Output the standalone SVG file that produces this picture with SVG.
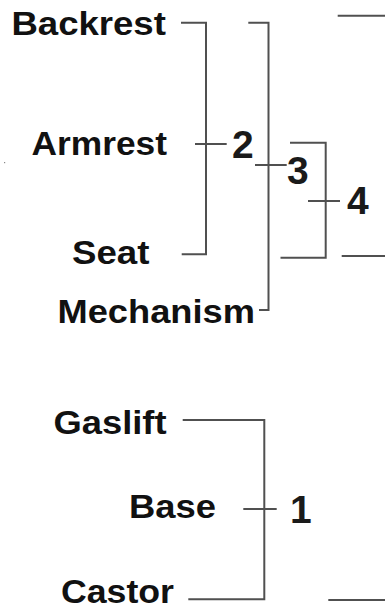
<svg xmlns="http://www.w3.org/2000/svg" width="385" height="609" viewBox="0 0 385 609">
<style>
.lbl{font-family:"Liberation Sans",Arial,sans-serif;font-weight:bold;font-size:33px;fill:#111}
.num{font-family:"Liberation Sans",Arial,sans-serif;font-weight:bold;font-size:39px;fill:#1a1a1a}
.ln{fill:none;stroke:#505050;stroke-width:2}
</style>
<rect width="385" height="609" fill="#fff"/>
<g id="connectors">
<path class="ln" d="M181,22.7 H206 V254.3 H181.7"/>
<path class="ln" d="M195,144 H226.7"/>
<path class="ln" d="M248.3,22.7 H268.5 V310 H259"/>
<path class="ln" d="M255,165 H286.7"/>
<path class="ln" d="M290,142.7 H325.7 V257.8 H280.5"/>
<path class="ln" d="M308,201 H340"/>
<path class="ln" d="M337.7,15.7 H385"/>
<path class="ln" d="M341.7,256 H385"/>
<path class="ln" d="M182.7,420 H264.3 V599.3 H188.3"/>
<path class="ln" d="M243.3,509 H276.7"/>
<path class="ln" d="M328.3,600 H385"/>
</g>
<g id="backrest"><text class="lbl" x="11.4" y="34.5" textLength="154.5" lengthAdjust="spacingAndGlyphs">Backrest</text></g>
<g id="armrest"><text class="lbl" x="31.5" y="155" textLength="135.5" lengthAdjust="spacingAndGlyphs">Armrest</text></g>
<g id="seat"><text class="lbl" x="72" y="263.5" textLength="77.5" lengthAdjust="spacingAndGlyphs">Seat</text></g>
<g id="mechanism"><text class="lbl" x="57.5" y="322.7" textLength="197.5" lengthAdjust="spacingAndGlyphs">Mechanism</text></g>
<g id="gaslift"><text class="lbl" x="53.5" y="434.3" textLength="113" lengthAdjust="spacingAndGlyphs">Gaslift</text></g>
<g id="base"><text class="lbl" x="129" y="518.3" textLength="87" lengthAdjust="spacingAndGlyphs">Base</text></g>
<g id="castor"><text class="lbl" x="61" y="602.5" textLength="113" lengthAdjust="spacingAndGlyphs">Castor</text></g>
<g id="n2"><text class="num" x="232" y="158.3">2</text></g>
<g id="n3"><text class="num" x="287" y="184">3</text></g>
<g id="n4"><text class="num" x="347" y="214">4</text></g>
<g id="n1"><text class="num" x="290" y="523.3">1</text></g>
<rect x="4" y="162" width="1.2" height="1.2" fill="#888"/>
</svg>
